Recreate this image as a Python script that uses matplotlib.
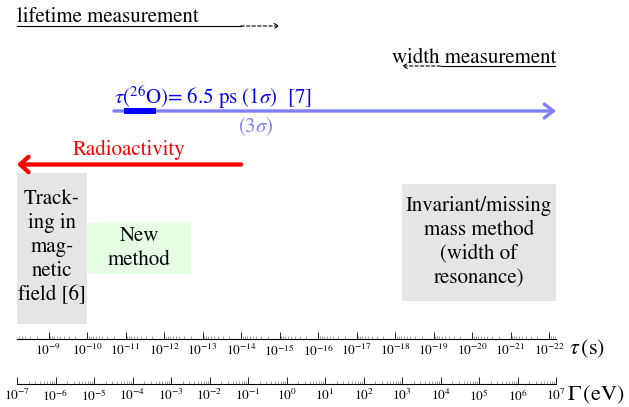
import matplotlib.pyplot as plt
from matplotlib.ticker import FixedLocator, LogLocator, NullFormatter

plt.rcParams['font.family'] = 'STIXGeneral'
plt.rcParams['mathtext.fontset'] = 'stix'

HBAR = 6.582e-16  # eV s, Gamma = hbar / tau

# axis ranges / ticks
gamma_lo, gamma_hi = 1e-7, 1e7
tau_exponents = list(range(-9, -23, -1))
gamma_exponents = list(range(-7, 8))

# measurement ranges (tau in s, Gamma in eV)
lifetime_solid_end = 1e-14
lifetime_dashed_end = 1e-15
width_solid_start = 1e4
width_dashed_end = 1e3
o26_tau_3sigma_max = 2e-11
o26_tau_1sigma = [1.1e-11, 1.6e-12]
o26_label_3sigma_at = 4e-15
radioactivity_start = 1e-14
tracking_tau_min = 1e-10
new_method_tau = [1e-10, 2e-13]
invariant_gamma = [1e3, 1e7]

tau_lo = HBAR / gamma_lo
tau_hi = HBAR / gamma_hi

W, H = 629, 407
fig = plt.figure(figsize=(W / 100, H / 100), dpi=100)
left = 17 / W
width = 539 / W

# main drawing area, y in pixels from the top
ax = fig.add_axes([left, 77 / H, width, 330 / H])
ax.set_xscale('log')
ax.set_xlim(tau_lo, tau_hi)
ax.set_ylim(330, 0)
ax.axis('off')

# boxes for the methods
ax.fill_between([tau_lo, tracking_tau_min], 173, 324, color='#e5e5e5', lw=0)
ax.text((tau_lo * tracking_tau_min) ** 0.5, 247, 'Track-\ning in\nmag-\nnetic\nfield [6]',
        ha='center', va='center', fontsize=15, linespacing=1.28)

ax.fill_between(new_method_tau, 223, 274, color='#e5ffe5', lw=0)
ax.text((new_method_tau[0] * new_method_tau[1]) ** 0.5, 248, 'New\nmethod',
        ha='center', va='center', fontsize=15, linespacing=1.25)

inv_tau = [HBAR / g for g in invariant_gamma]
ax.fill_between(inv_tau, 184, 301, color='#e5e5e5', lw=0)
ax.text((inv_tau[0] * inv_tau[1]) ** 0.5, 242, 'Invariant/missing\nmass method\n(width of\nresonance)',
        ha='center', va='center', fontsize=15, linespacing=1.28)

# lifetime measurement
ax.text(tau_lo, 22, 'lifetime measurement', ha='left', va='baseline', fontsize=15)
ax.plot([tau_lo, lifetime_solid_end], [26, 26], color='black', lw=0.8)
ax.annotate('', xy=(lifetime_dashed_end, 26), xytext=(lifetime_solid_end, 26),
            arrowprops=dict(arrowstyle='->,head_length=0.3,head_width=0.18', color='black',
                            lw=0.8, linestyle=(0, (3, 2)), shrinkA=0, shrinkB=0))

# width measurement
ax.text(tau_hi, 63, 'width measurement', ha='right', va='baseline', fontsize=15)
ax.plot([tau_hi, HBAR / width_solid_start], [66, 66], color='black', lw=0.8)
ax.annotate('', xy=(HBAR / width_dashed_end, 66), xytext=(HBAR / width_solid_start, 66),
            arrowprops=dict(arrowstyle='->,head_length=0.3,head_width=0.18', color='black',
                            lw=0.8, linestyle=(0, (3, 2)), shrinkA=0, shrinkB=0))

# 26O result
ax.text(o26_tau_3sigma_max, 104, r'$\tau$($^{26}$O)= 6.5 ps (1$\sigma$)  [7]',
        ha='left', va='baseline', fontsize=15, color='#0000ff')
ax.annotate('', xy=(tau_hi, 111), xytext=(o26_tau_3sigma_max, 111),
            arrowprops=dict(arrowstyle='->,head_length=0.65,head_width=0.5', color='#8080ff',
                            lw=2.4, shrinkA=0, shrinkB=0, mutation_scale=10), zorder=2)
ax.plot(o26_tau_1sigma, [111, 111], color='#0000ff', lw=4.3, solid_capstyle='butt', zorder=5)
ax.text(o26_label_3sigma_at, 127, r'(3$\sigma$)', ha='center', va='center',
        fontsize=15, color='#8080ff')

# radioactivity
ax.text((tau_lo * radioactivity_start) ** 0.5, 155, 'Radioactivity', ha='center',
        va='baseline', fontsize=15, color='#ff0000')
ax.annotate('', xy=(tau_lo, 164.5), xytext=(radioactivity_start, 164.5),
            arrowprops=dict(arrowstyle='->,head_length=0.6,head_width=0.55', color='#ff0000',
                            lw=3.1, shrinkA=0, shrinkB=0, mutation_scale=10))


# the two scales
def scale_axis(y_px, lims, exps):
    a = fig.add_axes([left, (H - y_px) / H, width, 0.02])
    a.patch.set_visible(False)
    a.set_xscale('log')
    a.set_xlim(*lims)
    for s in ['top', 'left', 'right']:
        a.spines[s].set_visible(False)
    a.spines['bottom'].set_linewidth(0.8)
    a.set_yticks([])
    a.xaxis.set_major_locator(FixedLocator([10.0 ** e for e in exps]))
    a.set_xticklabels(['$10^{%d}$' % e for e in exps])
    a.xaxis.set_minor_locator(LogLocator(base=10, subs=range(2, 10), numticks=100))
    a.xaxis.set_minor_formatter(NullFormatter())
    a.tick_params(axis='x', which='major', direction='in', length=5, width=0.6,
                  labelsize=9.5, pad=3)
    a.tick_params(axis='x', which='minor', direction='in', length=2.5, width=0.4,
                  color='#555555')
    return a


scale_axis(339, (tau_lo, tau_hi), tau_exponents)
scale_axis(384, (gamma_lo, gamma_hi), gamma_exponents)

fig.text(569 / W, 1 - 349 / H, r'$\tau\,$(s)', va='center', fontsize=16)
fig.text(567 / W, 1 - 395 / H, r'$\Gamma\,$(eV)', va='center', fontsize=16)

plt.savefig('out.png', dpi=100)
